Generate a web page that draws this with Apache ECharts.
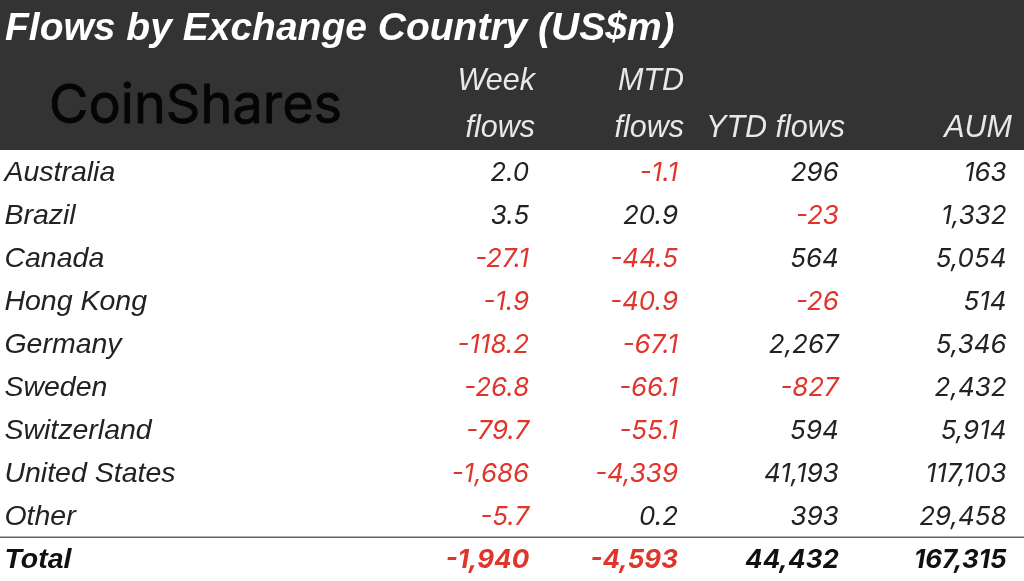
<!DOCTYPE html>
<html>
<head>
<meta charset="utf-8">
<style>html,body{margin:0;padding:0;background:#fff}#main{width:1024px;height:581px}</style>
<script src="https://cdn.jsdelivr.net/npm/echarts@6/dist/echarts.min.js"></script>
</head>
<body>
<div id="main"></div>
<script>
const title = 'Flows by Exchange Country (US$m)';
const countries = ['Australia','Brazil','Canada','Hong Kong','Germany','Sweden','Switzerland','United States','Other','Total'];
const columns = ['Country','Week flows','MTD flows','YTD flows','AUM'];
const weekFlows = [2.0,3.5,-27.1,-1.9,-118.2,-26.8,-79.7,-1686,-5.7,-1940];
const mtdFlows = [-1.1,20.9,-44.5,-40.9,-67.1,-66.1,-55.1,-4339,0.2,-4593];
const ytdFlows = [296,-23,564,-26,2267,-827,594,41193,393,44432];
const aum = [163,1332,5054,514,5346,2432,5914,117103,29458,167315];

const FONT = '"Liberation Sans", Arial, sans-serif';
const NUM_FONT = 'Inter, ' + FONT;    //proportional digits, its 1 is narrow like the original
const RED = '#e0352b';
const INK = '#222222';
const TOTAL_ROW = countries.length - 1;

//1 decimal for the small flow figures, none once they reach thousands
function fmt(v, decimals) {
    var a = Math.abs(v);
    var s = decimals && a < 1000 ? a.toFixed(1) : a.toLocaleString('en-US');
    return v < 0 ? '-' + s : s;
}

function numberSeries(colName, values, decimals, dx) {
    return {
        type: 'scatter',
        symbolSize: 1,
        itemStyle: {color: 'transparent', opacity: 1},
        silent: true,
        label: {
            show: true, position: 'inside', align: 'right', verticalAlign: 'middle',
            offset: [dx, 1],
            fontFamily: NUM_FONT, fontStyle: 'italic', fontSize: 26
        },
        data: values.map(function (v, i) {
            var bold = i === TOTAL_ROW;
            return {
                value: [colName, countries[i]],
                label: {
                    formatter: fmt(v, decimals),
                    color: v < 0 ? RED : (bold ? '#111' : INK),
                    fontWeight: bold ? 'bold' : 'normal'
                }
            };
        })
    };
}

var countrySeries = {
    type: 'scatter',
    symbolSize: 1,
    itemStyle: {color: 'transparent', opacity: 1},
    silent: true,
    label: {
        show: true, position: 'inside', align: 'left', verticalAlign: 'middle',
        offset: [-98, 1],
        fontFamily: FONT, fontStyle: 'italic', fontSize: 28.5, color: INK
    },
    data: countries.map(function (c, i) {
        return {
            value: [columns[0], c],
            label: {formatter: c, fontWeight: i === TOTAL_ROW ? 'bold' : 'normal', color: i === TOTAL_ROW ? '#111' : INK}
        };
    })
};

function headText(text, right, y) {
    return {
        type: 'text', z: 5, x: right, y: y,
        style: {text: text, fill: '#e8e8e8', font: 'italic 30.5px ' + FONT, textAlign: 'right', textVerticalAlign: 'middle'}
    };
}

var myChart = echarts.init(document.getElementById('main'));
myChart.setOption({
    animation: false,
    backgroundColor: '#fff',
    title: {
        text: title, left: 0, top: 5,
        textStyle: {color: '#fff', fontFamily: FONT, fontStyle: 'italic', fontWeight: 'bold', fontSize: 39}
    },
    grid: {left: 0, right: 0, top: 151, bottom: 0},
    xAxis: {type: 'category', data: columns, show: false},
    yAxis: {type: 'category', data: countries, inverse: true, show: false},
    graphic: [
        {type: 'rect', z: -1, shape: {x: 0, y: 0, width: 1024, height: 150}, style: {fill: '#333333'}},
        {type: 'rect', z: -1, shape: {x: 0, y: 536.5, width: 1024, height: 1.5}, style: {fill: '#666'}},
        {type: 'text', z: 5, x: 49, y: 107, style: {text: 'CoinShares', fill: '#050505', stroke: '#050505', lineWidth: 0.8, font: '400 54px "Inter", ' + FONT, textVerticalAlign: 'middle'}},
        headText('Week', 535, 82), headText('flows', 535, 129),
        headText('MTD', 684, 82), headText('flows', 684, 129),
        headText('YTD flows', 845, 129), headText('AUM', 1012, 129)
    ],
    series: [
        countrySeries,
        numberSeries(columns[1], weekFlows, true, 222),
        numberSeries(columns[2], mtdFlows, true, 166),
        numberSeries(columns[3], ytdFlows, false, 122),
        numberSeries(columns[4], aum, false, 85)
    ]
});
</script>
</body>
</html>
